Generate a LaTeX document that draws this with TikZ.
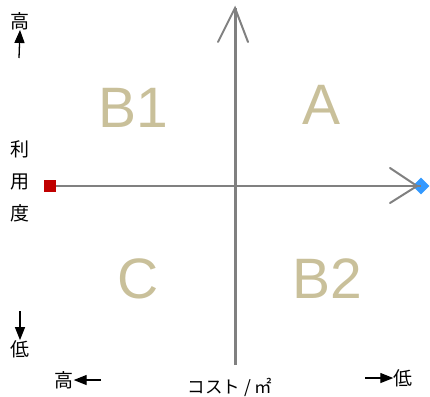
\documentclass[tikz,border=0pt]{standalone}
\usepackage{fontspec}
\setmainfont{Liberation Sans}
\newfontfamily\jpfont{Noto Sans CJK JP}
\usetikzlibrary{arrows.meta,shapes.geometric}
\definecolor{axisgray}{HTML}{808080}
\definecolor{quadtan}{HTML}{C9C09A}
\definecolor{sqred}{HTML}{C00000}
\definecolor{dmblue}{HTML}{3399FF}
\begin{document}
\begin{tikzpicture}[x=1pt,y=-1pt,
  quad/.style={text=quadtan,font=\fontsize{57}{57}\selectfont,inner sep=0pt},
  jlabel/.style={font=\jpfont\fontsize{19}{19}\selectfont,inner sep=0pt},
  smallarrow/.style={-{Triangle[length=13pt,width=10pt]},line width=1.3pt,black},
  axis/.style={draw=axisgray,line cap=butt}]
\useasboundingbox (0,0) rectangle (430,396);
% axes
\coordinate (vtop) at (235,8);
\coordinate (vbot) at (235,365);
\coordinate (vl) at (218,42);
\coordinate (vr) at (248,42);
\draw[axis,line width=3pt] (vbot) -- (vtop);
\draw[axis,line width=2pt,line cap=round] (vl) -- (vtop) -- (vr);
\node[draw=none,fill=sqred,minimum size=12pt,inner sep=0pt] (sq) at (50,186) {};
\node[diamond,fill=dmblue,minimum size=17pt,inner sep=0pt] (dm) at (421,186) {};
\coordinate (hl) at (390,168);
\coordinate (hr) at (390,203);
\draw[axis,line width=2pt] (sq.east) -- (dm.center);
\draw[axis,line width=2pt,line cap=round] (hl) -- (417,186) -- (hr);
% quadrant labels
\node[quad] (b1) at (133,108) {B1};
\node[quad] (a) at (322,105) {A};
\node[quad] (c) at (138,279) {C};
\node[quad] (b2) at (327,279) {B2};
% left labels
\node[jlabel] (hi) at (20,21) {高};
\coordinate (hiarrS) at (19,58);
\draw[smallarrow] (hiarrS) -- (hi.south);
\node[jlabel] (r1) at (20,149) {利};
\node[jlabel] (r2) at (20,182) {用};
\node[jlabel] (r3) at (20,213) {度};
\node[jlabel] (lo) at (20,349) {低};
\coordinate (loarrS) at (20,311);
\draw[smallarrow] (loarrS) -- (lo.north);
% bottom labels
\node[jlabel] (bhi) at (64,380) {高};
\coordinate (bhiS) at (101,380);
\draw[smallarrow] (bhiS) -- (bhi.east);
\node[jlabel] (blo) at (403,378) {低};
\coordinate (bloS) at (365,378);
\draw[smallarrow] (bloS) -- (blo.west);
\node[jlabel,font=\jpfont\fontsize{17.5}{17.5}\selectfont] (cost) at (230,387) {コスト / ㎡};
\end{tikzpicture}
\end{document}
